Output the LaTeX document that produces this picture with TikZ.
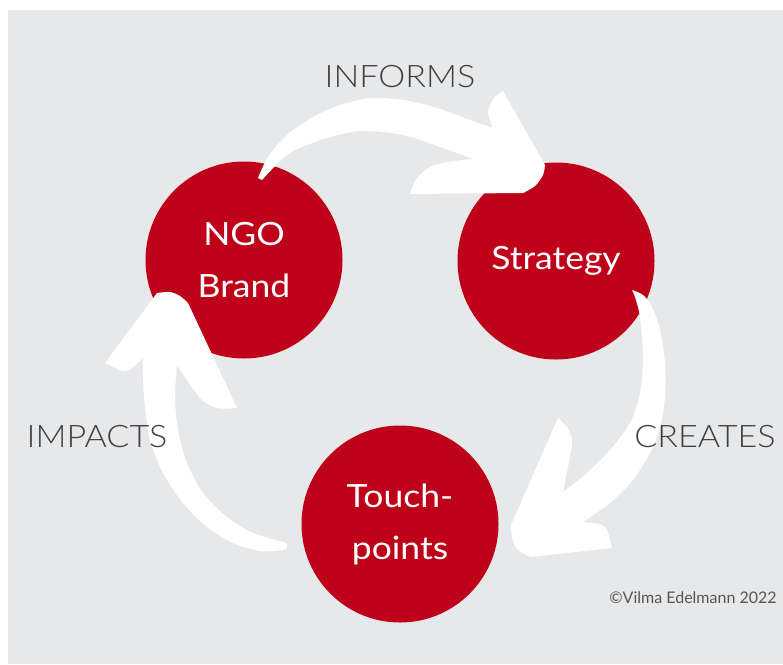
\documentclass[tikz,border=0pt]{standalone}
\usepackage{fontspec}
\setmainfont{Lato}
\newfontfamily\stagefont{Lato}[FakeStretch=1.11]
\newfontfamily\lightfont{Lato Light}[FakeStretch=1.1]
\definecolor{bg}{RGB}{231,232,234}
\definecolor{brandred}{RGB}{190,2,26}
\definecolor{labelgray}{RGB}{64,64,64}
\definecolor{notegray}{RGB}{85,85,85}

\begin{document}
\begin{tikzpicture}[x=1pt,y=-1pt,
  stage/.style={circle, fill=brandred, minimum size=197pt, inner sep=0pt,
    align=center, text=white, font=\stagefont\fontsize{32}{52}\selectfont},
  verb/.style={text=labelgray, font=\lightfont\fontsize{31}{31}\selectfont,
    anchor=base, inner sep=0pt},
  credit/.style={text=notegray, font=\fontsize{16}{16}\selectfont,
    anchor=base, inner sep=0pt},
  flow/.style={fill=white}]
\useasboundingbox (0,0) rectangle (783,664);
\fill[white] (0,0) rectangle (783,664);
\fill[bg] (8,10) rectangle (783,664);

% the three stages of the cycle
\node[stage] (brand) at (244,260) {NGO\\Brand};
\node[stage] (strategy) at (556,261) {Strategy};
\node[stage] (touch) at (400,524) {Touch-\\points};

% brand -> strategy
\fill[flow]
  plot[smooth] coordinates {(258,178) (268,157) (287,135) (313,117) (340,105) (370,98) (403,100) (437,108) (470,120) (493,128)}
  -- plot[smooth] coordinates {(493,128) (488,112) (494,98) (503,91)}
  -- (545,165)
  -- plot[smooth] coordinates {(545,165) (543,175) (535,186) (523,193)}
  -- (410,194)
  -- plot[smooth] coordinates {(410,194) (417,178) (430,167) (447,162) (473,159)}
  -- plot[smooth] coordinates {(473,159) (443,148) (403,135) (363,131) (330,137) (290,153) (262,180)}
  -- cycle;

% strategy -> touchpoints
\fill[flow]
  plot[smooth] coordinates {(632,290) (643,295) (652,307) (660,330) (665,363) (665,397) (660,427) (650,453) (633,480) (610,503) (583,522)}
  -- plot[smooth] coordinates {(583,522) (600,524) (607,530) (612,548)}
  -- (530,557)
  -- plot[smooth] coordinates {(530,557) (517,549) (512,537) (511,525)}
  -- (558,418)
  -- plot[smooth] coordinates {(558,418) (567,427) (572,440) (570,457) (563,492)}
  -- plot[smooth] coordinates {(563,492) (587,473) (610,450) (630,423) (640,393) (643,357) (640,317) (635,297) (632,290)}
  -- cycle;

% touchpoints -> brand
\fill[flow]
  plot[smooth] coordinates {(287,547) (283,550) (260,551) (233,543) (207,527) (183,503) (163,473) (150,440) (145,407) (143,377) (143,358)}
  -- plot[smooth] coordinates {(143,358) (132,368) (123,371) (105,363)}
  -- (157,293)
  -- plot[smooth] coordinates {(157,293) (170,292) (180,296) (188,303)}
  -- (237,408)
  -- plot[smooth] coordinates {(237,408) (217,408) (200,398) (177,365)}
  -- plot[smooth] coordinates {(177,365) (175,397) (178,430) (187,463) (203,493) (227,517) (253,533) (287,543)}
  -- cycle;

% verbs on the arrows
\node[verb] (informs) at (400,87) {INFORMS};
\node[verb] (creates) at (705,447) {CREATES};
\node[verb] (impacts) at (97,447) {IMPACTS};

\node[credit] (note) at (693,603) {©Vilma Edelmann 2022};
\end{tikzpicture}
\end{document}
